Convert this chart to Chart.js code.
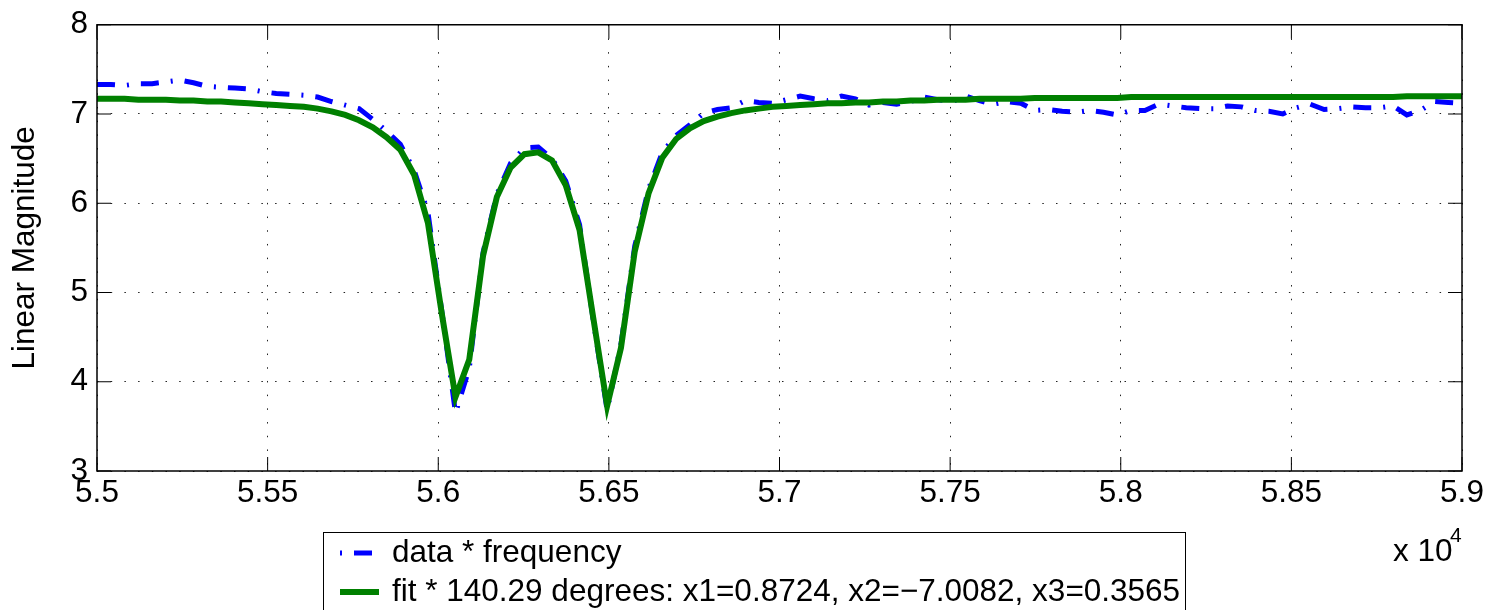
<!DOCTYPE html>
<html>
<head>
<meta charset="utf-8">
<title>Linear Magnitude</title>
<script src="https://cdn.jsdelivr.net/npm/chart.js@4.4.1/dist/chart.umd.min.js"></script>
<style>
  html, body { margin: 0; padding: 0; background: #fff; }
  #wrap { width: 1494px; height: 610px; }
</style>
</head>
<body>
<div id="wrap"><canvas id="chart" width="1494" height="610"></canvas></div>
<script>
// sample frequencies (Hz)
const frequencies = [
  55000.0, 55040.4, 55080.8, 55121.2, 55161.6, 55202.0, 55242.4, 55282.8, 55323.2, 55363.6,
  55404.0, 55444.4, 55484.8, 55525.3, 55565.7, 55606.1, 55646.5, 55686.9, 55727.3, 55767.7,
  55808.1, 55848.5, 55888.9, 55929.3, 55969.7, 56010.1, 56050.5, 56090.9, 56131.3, 56171.7,
  56212.1, 56252.5, 56292.9, 56333.3, 56373.7, 56414.1, 56454.5, 56494.9, 56535.4, 56575.8,
  56616.2, 56656.6, 56697.0, 56737.4, 56777.8, 56818.2, 56858.6, 56899.0, 56939.4, 56979.8,
  57020.2, 57060.6, 57101.0, 57141.4, 57181.8, 57222.2, 57262.6, 57303.0, 57343.4, 57383.8,
  57424.2, 57464.6, 57505.1, 57545.5, 57585.9, 57626.3, 57666.7, 57707.1, 57747.5, 57787.9,
  57828.3, 57868.7, 57909.1, 57949.5, 57989.9, 58030.3, 58070.7, 58111.1, 58151.5, 58191.9,
  58232.3, 58272.7, 58313.1, 58353.5, 58393.9, 58434.3, 58474.7, 58515.2, 58555.6, 58596.0,
  58636.4, 58676.8, 58717.2, 58757.6, 58798.0, 58838.4, 58878.8, 58919.2, 58959.6, 59000.0
];

// measured magnitude
const dataMagnitude = [
  7.33, 7.33, 7.32, 7.34, 7.34, 7.36, 7.38, 7.35, 7.31, 7.30,
  7.29, 7.28, 7.25, 7.23, 7.22, 7.21, 7.19, 7.14, 7.10, 7.06,
  6.94, 6.81, 6.66, 6.37, 5.90, 4.80, 3.65, 4.15, 5.45, 6.10,
  6.45, 6.62, 6.63, 6.50, 6.25, 5.76, 4.68, 3.68, 4.42, 5.52,
  6.16, 6.57, 6.76, 6.88, 7.01, 7.05, 7.07, 7.15, 7.13, 7.12,
  7.16, 7.20, 7.17, 7.15, 7.20, 7.17, 7.10, 7.13, 7.11, 7.14,
  7.19, 7.16, 7.14, 7.20, 7.15, 7.11, 7.14, 7.12, 7.04, 7.05,
  7.03, 7.02, 7.04, 7.02, 6.99, 7.04, 7.04, 7.11, 7.09, 7.07,
  7.06, 7.06, 7.09, 7.08, 7.04, 7.03, 7.00, 7.07, 7.11, 7.05,
  7.06, 7.08, 7.07, 7.07, 7.09, 6.99, 7.04, 7.14, 7.13, 7.12
];

// fitted curve
const fitMagnitude = [
  7.17, 7.17, 7.17, 7.16, 7.16, 7.16, 7.15, 7.15, 7.14, 7.14,
  7.13, 7.12, 7.11, 7.10, 7.09, 7.08, 7.06, 7.03, 6.99, 6.93,
  6.85, 6.74, 6.60, 6.32, 5.78, 4.77, 3.83, 4.25, 5.41, 6.07,
  6.40, 6.55, 6.57, 6.48, 6.20, 5.70, 4.71, 3.73, 4.38, 5.46,
  6.11, 6.51, 6.72, 6.84, 6.92, 6.97, 7.01, 7.04, 7.06, 7.08,
  7.09, 7.10, 7.11, 7.12, 7.12, 7.13, 7.13, 7.14, 7.14, 7.15,
  7.15, 7.16, 7.16, 7.16, 7.17, 7.17, 7.17, 7.17, 7.18, 7.18,
  7.18, 7.18, 7.18, 7.18, 7.18, 7.19, 7.19, 7.19, 7.19, 7.19,
  7.19, 7.19, 7.19, 7.19, 7.19, 7.19, 7.19, 7.19, 7.19, 7.19,
  7.19, 7.19, 7.19, 7.19, 7.19, 7.20, 7.20, 7.20, 7.20, 7.20
];

const seriesLabels = [
  'data * frequency',
  'fit * 140.29 degrees: x1=0.8724, x2=\u22127.0082, x3=0.3565'
];

const FONT = '"Liberation Sans", Arial, Helvetica, sans-serif';
const FONT_SIZE = 31.5;

const toPoints = (ys) => ys.map((y, i) => ({ x: frequencies[i], y: y }));

// box, inner ticks, exponent and legend, the way matlab draws them
const matlabFrame = {
  id: 'matlabFrame',
  afterDraw(chart) {
    const { ctx, chartArea: a, scales } = chart;
    ctx.save();
    ctx.strokeStyle = '#000';
    ctx.lineWidth = 1.5;
    ctx.setLineDash([]);
    ctx.strokeRect(a.left, a.top, a.right - a.left, a.bottom - a.top);

    const tl = 14;
    ctx.lineWidth = 1;
    ctx.beginPath();
    scales.x.ticks.forEach(t => {
      const px = scales.x.getPixelForValue(t.value);
      ctx.moveTo(px, a.bottom); ctx.lineTo(px, a.bottom - tl);
      ctx.moveTo(px, a.top); ctx.lineTo(px, a.top + tl);
    });
    scales.y.ticks.forEach(t => {
      const py = scales.y.getPixelForValue(t.value);
      ctx.moveTo(a.left, py); ctx.lineTo(a.left + tl, py);
      ctx.moveTo(a.right, py); ctx.lineTo(a.right - tl, py);
    });
    ctx.stroke();

    // x 10^4
    ctx.fillStyle = '#000';
    ctx.textAlign = 'left';
    ctx.textBaseline = 'alphabetic';
    ctx.font = FONT_SIZE + 'px ' + FONT;
    ctx.fillText('x 10', 1393, 561);
    ctx.font = '21px ' + FONT;
    ctx.fillText('4', 1450, 542);

    // legend
    const lx = 323, ly = 532, lw = 862, lh = 90;
    ctx.fillStyle = '#fff';
    ctx.fillRect(lx, ly, lw, lh);
    ctx.strokeStyle = '#000';
    ctx.lineWidth = 1;
    ctx.strokeRect(lx + 0.5, ly + 0.5, lw, lh);
    const rows = [553, 592];
    chart.data.datasets.forEach((ds, i) => {
      const y = rows[i];
      ctx.strokeStyle = ds.borderColor;
      ctx.lineWidth = ds.borderWidth;
      ctx.setLineDash(ds.borderDash || []);
      ctx.lineDashOffset = ds.borderDash ? 30 : 0;
      ctx.beginPath();
      ctx.moveTo(340, y);
      ctx.lineTo(379, y);
      ctx.stroke();
      ctx.setLineDash([]);
      ctx.fillStyle = '#000';
      ctx.font = FONT_SIZE + 'px ' + FONT;
      ctx.textBaseline = 'middle';
      ctx.fillText(ds.label, 392, y);
    });
    ctx.restore();
  }
};

new Chart(document.getElementById('chart'), {
  type: 'line',
  data: {
    datasets: [
      {
        label: seriesLabels[0],
        data: toPoints(dataMagnitude),
        borderColor: '#0000ff',
        borderWidth: 5,
        borderDash: [18, 12, 2, 12],
        borderCapStyle: 'butt',
        pointRadius: 0,
        tension: 0,
        order: 1
      },
      {
        label: seriesLabels[1],
        data: toPoints(fitMagnitude),
        borderColor: '#008000',
        borderWidth: 6,
        pointRadius: 0,
        tension: 0,
        order: 0
      }
    ]
  },
  options: {
    responsive: false,
    animation: false,
    devicePixelRatio: 1,
    layout: { padding: { left: 0, right: 32, top: 16, bottom: 0 } },
    plugins: {
      legend: { display: false },
      tooltip: { enabled: false }
    },
    scales: {
      x: {
        type: 'linear',
        min: 55000,
        max: 59000,
        afterFit: (s) => { s.height = 139; },
        ticks: {
          stepSize: 500,
          color: '#000',
          padding: 7,
          maxRotation: 0,
          font: { family: FONT, size: FONT_SIZE, lineHeight: 1 },
          callback: (v) => String(+(v / 1e4).toFixed(2))
        },
        grid: { color: '#222', lineWidth: 1, drawTicks: false },
        border: { display: false, dash: [1.5, 12.2] }
      },
      y: {
        min: 3,
        max: 8,
        afterFit: (s) => { s.width = 97; },
        ticks: {
          stepSize: 1,
          color: '#000',
          padding: 9,
          font: { family: FONT, size: FONT_SIZE, lineHeight: 1 }
        },
        grid: { color: '#222', lineWidth: 1, drawTicks: false },
        border: { display: false, dash: [1.5, 12.2] },
        title: {
          display: true,
          text: 'Linear Magnitude',
          color: '#000',
          padding: { top: 10, bottom: 0 },
          font: { family: FONT, size: FONT_SIZE, lineHeight: 1 }
        }
      }
    }
  },
  plugins: [matlabFrame]
});
</script>
</body>
</html>
